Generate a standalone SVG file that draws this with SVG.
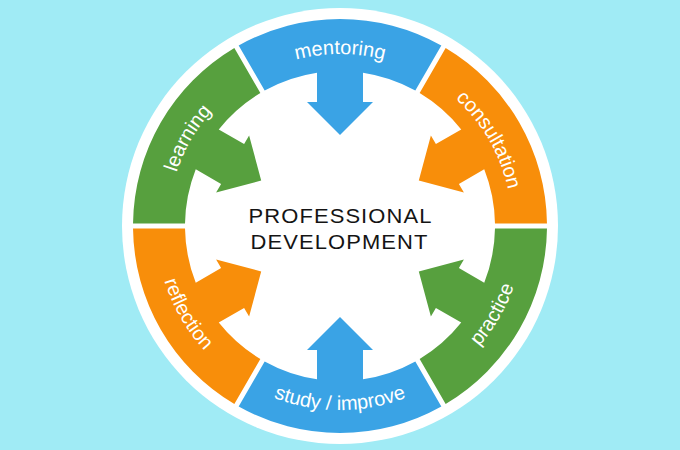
<svg xmlns="http://www.w3.org/2000/svg" xmlns:xlink="http://www.w3.org/1999/xlink" width="680" height="450" viewBox="0 0 680 450">
  <style>
    .lbl { font-family: "Liberation Sans", Arial, sans-serif; font-size: 20px; fill: #ffffff; }
    .title { font-family: "Liberation Sans", Arial, sans-serif; font-size: 20px; fill: #141414; letter-spacing: 1px; }
    .blue { fill: #3AA3E5; }
    .green { fill: #57A03E; }
    .orange { fill: #F88E0A; }
  </style>
  <defs>
    <path id="seg" d="M -101.33,-180.5 A 207 207 0 0 1 101.33,-180.5 L 75.33,-135.47 A 155 155 0 0 0 23,-153.28 L 23,-124 L 33,-124 L 0,-91 L -33,-124 L -23,-124 L -23,-153.28 A 155 155 0 0 0 -75.33,-135.47 Z"/>
    <path id="arcLearning" d="M 168,226 A 172 172 0 0 1 254,77.04"/>
    <path id="arcMentoring" d="M 254,77.04 A 172 172 0 0 1 426,77.04"/>
    <path id="arcConsultation" d="M 426,77.04 A 172 172 0 0 1 512,226"/>
    <path id="arcReflection" d="M 156,226 A 184 184 0 0 0 248,385.35"/>
    <path id="arcStudy" d="M 248,385.35 A 184 184 0 0 0 432,385.35"/>
    <path id="arcPractice" d="M 432,385.35 A 184 184 0 0 0 524,226"/>
  </defs>
  <rect x="0" y="0" width="680" height="450" fill="#A0EBF5"/>
  <circle cx="340" cy="226" r="218" fill="#ffffff"/>
  <g id="connectors"/>
  <g id="mentoring">
    <use xlink:href="#seg" href="#seg" class="blue" transform="translate(340,226) rotate(0)"/>
    <text class="lbl"><textPath xlink:href="#arcMentoring" href="#arcMentoring" startOffset="50%" text-anchor="middle">mentoring</textPath></text>
  </g>
  <g id="consultation">
    <use xlink:href="#seg" href="#seg" class="orange" transform="translate(340,226) rotate(60)"/>
    <text class="lbl"><textPath xlink:href="#arcConsultation" href="#arcConsultation" startOffset="50%" text-anchor="middle">consultation</textPath></text>
  </g>
  <g id="practice">
    <use xlink:href="#seg" href="#seg" class="green" transform="translate(340,226) rotate(120)"/>
    <text class="lbl"><textPath xlink:href="#arcPractice" href="#arcPractice" startOffset="50%" text-anchor="middle">practice</textPath></text>
  </g>
  <g id="study-improve">
    <use xlink:href="#seg" href="#seg" class="blue" transform="translate(340,226) rotate(180)"/>
    <text class="lbl"><textPath xlink:href="#arcStudy" href="#arcStudy" startOffset="50%" text-anchor="middle">study / improve</textPath></text>
  </g>
  <g id="reflection">
    <use xlink:href="#seg" href="#seg" class="orange" transform="translate(340,226) rotate(240)"/>
    <text class="lbl"><textPath xlink:href="#arcReflection" href="#arcReflection" startOffset="50%" text-anchor="middle">reflection</textPath></text>
  </g>
  <g id="learning">
    <use xlink:href="#seg" href="#seg" class="green" transform="translate(340,226) rotate(300)"/>
    <text class="lbl"><textPath xlink:href="#arcLearning" href="#arcLearning" startOffset="50%" text-anchor="middle">learning</textPath></text>
  </g>
  <g id="professional-development">
    <text class="title" transform="translate(340.5,223.3) scale(1.098,1)" x="0" y="0" text-anchor="middle">PROFESSIONAL</text>
    <text class="title" transform="translate(339.5,249.3) scale(1.098,1)" x="0" y="0" text-anchor="middle">DEVELOPMENT</text>
  </g>
</svg>
